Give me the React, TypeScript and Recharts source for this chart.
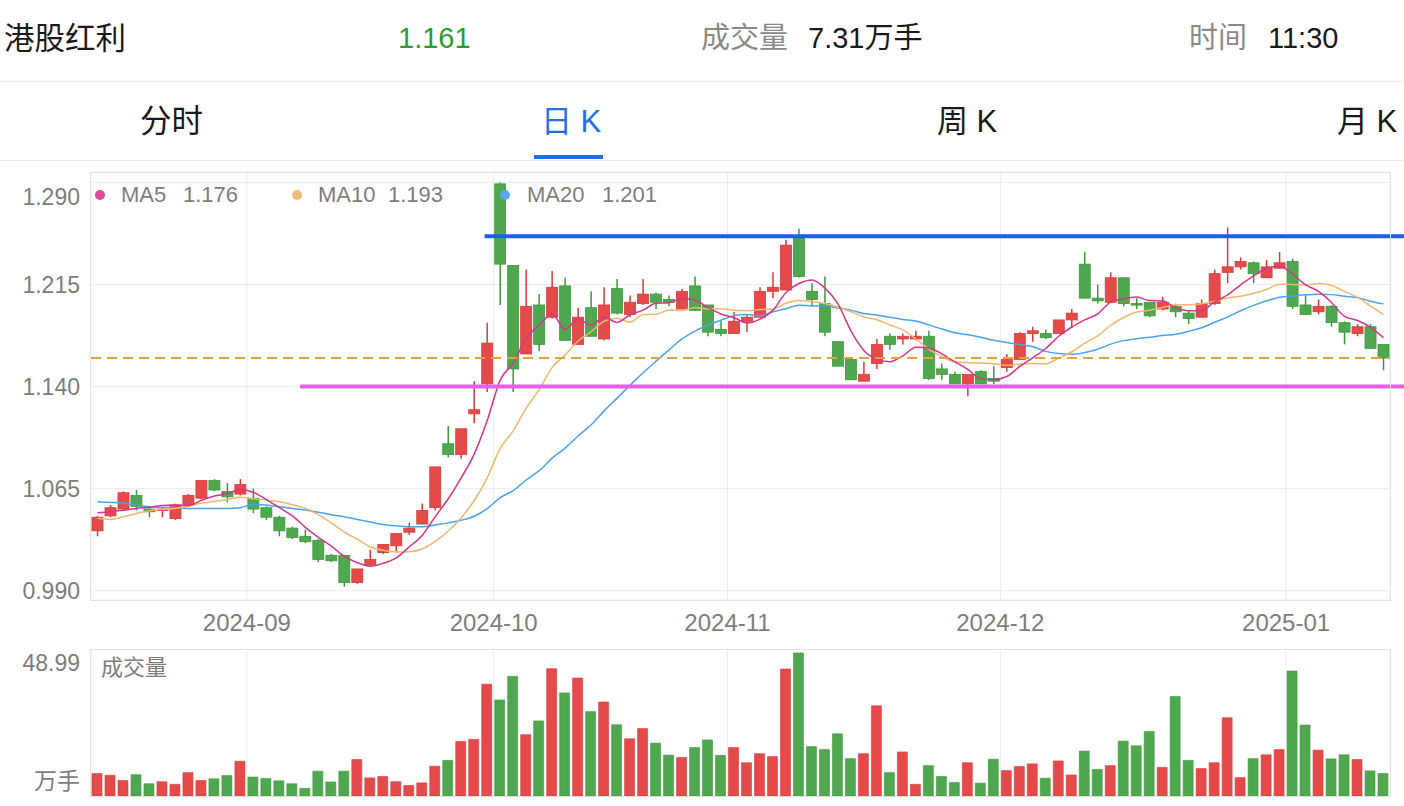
import React from 'react';
import { ComposedChart, Bar, Line, XAxis, YAxis, CartesianGrid, ReferenceLine, Cell } from 'recharts';

// trading days shown on the chart
const dates = [
  '2024-08-15', '2024-08-16', '2024-08-19', '2024-08-20', '2024-08-21', '2024-08-22', '2024-08-23', '2024-08-26', '2024-08-27', '2024-08-28', '2024-08-29', '2024-08-30',
  '2024-09-02', '2024-09-03', '2024-09-04', '2024-09-05', '2024-09-06', '2024-09-09', '2024-09-10', '2024-09-11', '2024-09-12', '2024-09-13', '2024-09-18', '2024-09-19', '2024-09-20', '2024-09-23', '2024-09-24', '2024-09-25', '2024-09-26', '2024-09-27', '2024-09-30',
  '2024-10-08', '2024-10-09', '2024-10-10', '2024-10-11', '2024-10-14', '2024-10-15', '2024-10-16', '2024-10-17', '2024-10-18', '2024-10-21', '2024-10-22', '2024-10-23', '2024-10-24', '2024-10-25', '2024-10-28', '2024-10-29', '2024-10-30', '2024-10-31',
  '2024-11-01', '2024-11-04', '2024-11-05', '2024-11-06', '2024-11-07', '2024-11-08', '2024-11-11', '2024-11-12', '2024-11-13', '2024-11-14', '2024-11-15', '2024-11-18', '2024-11-19', '2024-11-20', '2024-11-21', '2024-11-22', '2024-11-25', '2024-11-26', '2024-11-27', '2024-11-28', '2024-11-29',
  '2024-12-02', '2024-12-03', '2024-12-04', '2024-12-05', '2024-12-06', '2024-12-09', '2024-12-10', '2024-12-11', '2024-12-12', '2024-12-13', '2024-12-16', '2024-12-17', '2024-12-18', '2024-12-19', '2024-12-20', '2024-12-23', '2024-12-24', '2024-12-25', '2024-12-26', '2024-12-27', '2024-12-30', '2024-12-31',
  '2025-01-02', '2025-01-03', '2025-01-06', '2025-01-07', '2025-01-08', '2025-01-09', '2025-01-10', '2025-01-13',
];

const open = [
  1.034, 1.045, 1.050, 1.060, 1.050, 1.049, 1.043, 1.053, 1.058, 1.071,
  1.063, 1.061, 1.058, 1.051, 1.044, 1.036, 1.030, 1.027, 1.016, 1.016,
  0.996, 1.009, 1.018, 1.023, 1.033, 1.039, 1.051, 1.098, 1.090, 1.120,
  1.142, 1.289, 1.229, 1.164, 1.200, 1.191, 1.214, 1.171, 1.198, 1.175,
  1.212, 1.193, 1.201, 1.208, 1.204, 1.197, 1.214, 1.200, 1.182, 1.179,
  1.188, 1.191, 1.210, 1.211, 1.250, 1.210, 1.201, 1.173, 1.160, 1.144,
  1.157, 1.177, 1.175, 1.175, 1.177, 1.153, 1.149, 1.142, 1.151, 1.146,
  1.154, 1.160, 1.179, 1.179, 1.179, 1.189, 1.230, 1.205, 1.202, 1.220,
  1.201, 1.202, 1.197, 1.199, 1.194, 1.191, 1.201, 1.224, 1.228, 1.231,
  1.220, 1.227, 1.232, 1.200, 1.195, 1.199, 1.187, 1.179, 1.184, 1.171,
];
const high = [
  1.045, 1.053, 1.063, 1.064, 1.052, 1.051, 1.054, 1.061, 1.071, 1.072,
  1.069, 1.072, 1.065, 1.052, 1.045, 1.037, 1.035, 1.028, 1.017, 1.016,
  1.006, 1.020, 1.024, 1.032, 1.040, 1.054, 1.081, 1.111, 1.109, 1.144,
  1.187, 1.290, 1.229, 1.226, 1.208, 1.225, 1.220, 1.198, 1.210, 1.213,
  1.219, 1.207, 1.219, 1.209, 1.207, 1.212, 1.221, 1.200, 1.188, 1.195,
  1.193, 1.213, 1.224, 1.248, 1.256, 1.216, 1.221, 1.173, 1.162, 1.158,
  1.175, 1.179, 1.179, 1.181, 1.181, 1.157, 1.151, 1.149, 1.152, 1.155,
  1.164, 1.180, 1.184, 1.182, 1.189, 1.197, 1.239, 1.215, 1.224, 1.220,
  1.205, 1.202, 1.206, 1.201, 1.196, 1.204, 1.226, 1.257, 1.235, 1.232,
  1.233, 1.239, 1.234, 1.207, 1.204, 1.200, 1.188, 1.186, 1.186, 1.171,
];
const low = [
  1.030, 1.044, 1.049, 1.049, 1.044, 1.044, 1.042, 1.052, 1.057, 1.063,
  1.055, 1.060, 1.047, 1.042, 1.030, 1.028, 1.025, 1.011, 1.011, 0.993,
  0.995, 1.008, 1.017, 1.019, 1.031, 1.039, 1.049, 1.088, 1.087, 1.113,
  1.136, 1.200, 1.136, 1.164, 1.166, 1.190, 1.174, 1.171, 1.177, 1.174,
  1.193, 1.191, 1.200, 1.197, 1.199, 1.197, 1.196, 1.177, 1.177, 1.179,
  1.180, 1.191, 1.205, 1.211, 1.220, 1.199, 1.177, 1.155, 1.145, 1.144,
  1.153, 1.167, 1.171, 1.174, 1.145, 1.145, 1.142, 1.133, 1.142, 1.142,
  1.151, 1.160, 1.173, 1.175, 1.179, 1.183, 1.205, 1.201, 1.202, 1.199,
  1.197, 1.191, 1.196, 1.191, 1.186, 1.191, 1.200, 1.216, 1.226, 1.216,
  1.220, 1.227, 1.197, 1.193, 1.193, 1.184, 1.171, 1.177, 1.168, 1.152,
];
const close = [
  1.044, 1.051, 1.062, 1.052, 1.048, 1.050, 1.053, 1.060, 1.071, 1.064,
  1.059, 1.068, 1.050, 1.044, 1.034, 1.029, 1.026, 1.013, 1.012, 0.996,
  1.006, 1.013, 1.024, 1.032, 1.036, 1.049, 1.081, 1.090, 1.109, 1.123,
  1.172, 1.230, 1.153, 1.199, 1.171, 1.213, 1.174, 1.191, 1.177, 1.200,
  1.194, 1.202, 1.208, 1.202, 1.202, 1.210, 1.196, 1.180, 1.179, 1.188,
  1.191, 1.210, 1.213, 1.244, 1.221, 1.204, 1.180, 1.155, 1.145, 1.149,
  1.171, 1.171, 1.177, 1.177, 1.146, 1.149, 1.142, 1.149, 1.142, 1.144,
  1.160, 1.179, 1.181, 1.176, 1.189, 1.194, 1.205, 1.203, 1.220, 1.201,
  1.200, 1.192, 1.202, 1.195, 1.190, 1.201, 1.223, 1.228, 1.232, 1.223,
  1.228, 1.231, 1.199, 1.193, 1.199, 1.187, 1.180, 1.184, 1.168, 1.161,
];
// 万手
const volume = [
  7.7, 7.1, 5.3, 7.3, 4.2, 4.9, 4.0, 8.0, 5.3, 5.9,
  7.0, 11.9, 6.5, 6.0, 5.2, 4.2, 2.6, 8.5, 4.8, 8.5,
  12.5, 6.2, 6.7, 4.9, 3.6, 4.5, 10.2, 12.2, 18.7, 19.4,
  38.3, 32.9, 41.0, 21.0, 25.7, 43.6, 35.3, 40.4, 28.9, 32.2,
  24.4, 19.6, 23.1, 18.1, 14.0, 13.2, 16.6, 19.2, 13.9, 16.6,
  11.4, 14.5, 13.5, 43.5, 48.99, 16.9, 15.9, 21.3, 12.8, 14.5,
  30.9, 8.0, 15.1, 4.0, 10.4, 6.7, 4.6, 11.4, 4.4, 12.6,
  8.7, 10.1, 11.0, 6.1, 12.0, 7.2, 15.4, 9.1, 10.4, 18.8,
  17.2, 22.1, 9.8, 34.1, 12.2, 9.4, 11.4, 26.8, 6.3, 12.8,
  14.1, 15.9, 42.8, 24.3, 15.7, 12.7, 14.1, 12.5, 8.6, 7.7,
];

// MA values at the left edge (they depend on days before the window)
const ma5Lead = [1.0473, 1.0480, 1.0492, 1.0505];
const ma10Lead = [1.0432, 1.0424, 1.0444, 1.0468, 1.0488, 1.0498, 1.0505, 1.0522, 1.0542];
const ma20Lead = [
  1.0554, 1.0549, 1.0544, 1.0529, 1.0517, 1.0512, 1.0510, 1.0505, 1.0505, 1.0505,
  1.0505, 1.0510, 1.0534, 1.0529, 1.0517, 1.0505, 1.0493, 1.0476, 1.0458,
];

const priceTicks = [0.99, 1.065, 1.14, 1.215, 1.29];
// drawn trend lines: price level and the bar index where they start
const resistance = { price: 1.2505, from: 29.8 };
const support = { price: 1.14, from: 15.6 };

const UP = '#e54a4a';
const UP_EDGE = '#d83a3a';
const DOWN = '#4fa84f';
const DOWN_EDGE = '#3d983d';
const GRID = '#ececec';
const LABEL = '#7d7d7d';
const FONT = '"Liberation Sans", "Noto Sans CJK SC", sans-serif';
const W = 1404;

function movingAverage(n: number, lead: number[]) {
  return close.map((_, i) => {
    if (i < n - 1) return lead[i];
    let s = 0;
    for (let k = i - n + 1; k <= i; k++) s += close[k];
    return s / n;
  });
}
const ma5 = movingAverage(5, ma5Lead);
const ma10 = movingAverage(10, ma10Lead);
const ma20 = movingAverage(20, ma20Lead);

const rows = dates.map((d, i) => ({
  idx: i,
  date: d,
  open: open[i],
  high: high[i],
  low: low[i],
  close: close[i],
  volume: volume[i],
  ma5: ma5[i],
  ma10: ma10[i],
  ma20: ma20[i],
  up: close[i] >= open[i],
}));

const last = rows.length - 1;
const xDomain = [-0.5, last + 0.5];
const monthTicks = rows
  .filter((r, i) => i > 0 && r.date.slice(0, 7) !== rows[i - 1].date.slice(0, 7))
  .map((r) => r.idx - 0.5);
const maxVol = Math.max(...volume);

const legend = [
  { name: 'MA5', value: ma5[last], color: '#e0489a', dot: 100, text: 121, num: 183 },
  { name: 'MA10', value: ma10[last], color: '#f1bb78', dot: 297, text: 318, num: 388 },
  { name: 'MA20', value: ma20[last], color: '#5aa6f2', dot: 505, text: 527, num: 602 },
];

const Candle = (props: any) => {
  const { x, y, width, height, payload } = props;
  if (x == null || payload == null) return null;
  const top = Math.min(y, y + height);
  const h = Math.abs(height);
  const range = payload.high - payload.low;
  const py = (v: number) => (range > 0 ? top + ((payload.high - v) / range) * h : top);
  const fill = payload.up ? UP : DOWN;
  const edge = payload.up ? UP_EDGE : DOWN_EDGE;
  const bodyTop = py(Math.max(payload.open, payload.close));
  const bodyBottom = py(Math.min(payload.open, payload.close));
  const cx = x + width / 2;
  return (
    <g>
      <line x1={cx} x2={cx} y1={top} y2={top + h} stroke={edge} strokeWidth={1.5} />
      <rect x={x} y={bodyTop} width={width} height={Math.max(bodyBottom - bodyTop, 1.5)} fill={fill} stroke={edge} strokeWidth={0.8} />
    </g>
  );
};

const PriceTick = (props: any) => {
  const { x, y, payload } = props;
  const v = payload.value;
  const dy = v === priceTicks[priceTicks.length - 1] ? 14.5 : 0;
  return (
    <text x={x} y={y + dy} textAnchor="end" dominantBaseline="central" fill={LABEL} fontSize={23} fontFamily={FONT}>
      {v.toFixed(3)}
    </text>
  );
};

const DateTick = (props: any) => {
  const { x, y, payload } = props;
  return (
    <text x={x} y={y + 22} textAnchor="middle" dominantBaseline="central" fill={LABEL} fontSize={24} fontFamily={FONT}>
      {dates[Math.ceil(payload.value)].slice(0, 7)}
    </text>
  );
};

const VolTick = (props: any) => {
  const { x, y, payload } = props;
  const isTop = payload.value > 0;
  return (
    <text x={x} y={y + (isTop ? 10 : -15)} textAnchor="end" dominantBaseline="central" fill={LABEL} fontSize={23} fontFamily={FONT}>
      {isTop ? maxVol.toFixed(2) : '万手'}
    </text>
  );
};

const extendRight = (color: string) => (p: any) => (
  <line x1={p.x1} y1={p.y1} x2={W} y2={p.y2} stroke={color} strokeWidth={4} />
);

const box = (top: number, height: number): React.CSSProperties => ({
  position: 'absolute',
  left: 90,
  top,
  width: 1301,
  height,
  boxSizing: 'border-box',
  border: '1px solid #e3e3e3',
  pointerEvents: 'none',
});

const txt = (left: number, top: number, size: number, color: string, extra: React.CSSProperties = {}): React.CSSProperties => ({
  position: 'absolute',
  left,
  top,
  fontSize: size,
  color,
  lineHeight: 1,
  whiteSpace: 'nowrap',
  ...extra,
});

export default function App() {
  return (
    <div style={{ position: 'relative', width: W, height: 806, background: '#fff', fontFamily: FONT, overflow: 'hidden' }}>
      <style>{'body{margin:0}'}</style>

      {/* quote header */}
      <div style={txt(4, 23, 30.5, '#1a1a1a')}>港股红利</div>
      <div style={txt(398, 24, 29, '#2f9b2f')}>{close[last].toFixed(3)}</div>
      <div style={txt(701, 24, 29, '#8a8a8a')}>成交量</div>
      <div style={txt(808, 24, 29, '#1a1a1a')}>7.31万手</div>
      <div style={txt(1189, 24, 29, '#8a8a8a')}>时间</div>
      <div style={txt(1268, 24, 29, '#1a1a1a')}>11:30</div>
      <div style={{ position: 'absolute', left: 0, top: 81, width: W, height: 1, background: '#ececec' }} />

      {/* period tabs */}
      <div style={txt(140, 106, 31.5, '#1a1a1a')}>分时</div>
      <div style={txt(541, 106, 31, '#2070e8')}>日 K</div>
      <div style={txt(937, 106, 31, '#1a1a1a')}>周 K</div>
      <div style={txt(1337, 106, 31, '#1a1a1a')}>月 K</div>
      <div style={{ position: 'absolute', left: 534, top: 155, width: 69, height: 4, background: '#2070e8' }} />
      <div style={{ position: 'absolute', left: 0, top: 160, width: W, height: 1, background: '#ececec' }} />

      {/* candlestick chart */}
      <div style={{ position: 'absolute', left: 0, top: 0 }}>
        <ComposedChart width={W} height={640} data={rows} margin={{ top: 172, right: 14, bottom: 0, left: 0 }}>
          <CartesianGrid stroke={GRID} />
          <XAxis
            dataKey="idx"
            type="number"
            domain={xDomain}
            ticks={monthTicks}
            allowDataOverflow
            height={40}
            axisLine={false}
            tickLine={false}
            tickSize={0}
            tickMargin={0}
            tick={<DateTick />}
          />
          <YAxis
            type="number"
            domain={[0.98317, 1.29772]}
            allowDataOverflow
            ticks={priceTicks}
            width={91}
            axisLine={false}
            tickLine={false}
            tickSize={0}
            tickMargin={11}
            tick={<PriceTick />}
          />
          <Bar dataKey={(d: any) => [d.low, d.high]} barSize={11} shape={<Candle />} isAnimationActive={false} />
          <Line type="monotone" dataKey="ma20" stroke="#4aa3ee" strokeWidth={1.5} dot={false} isAnimationActive={false} />
          <Line type="monotone" dataKey="ma10" stroke="#f2b66c" strokeWidth={1.5} dot={false} isAnimationActive={false} />
          <Line type="monotone" dataKey="ma5" stroke="#d6358c" strokeWidth={1.5} dot={false} isAnimationActive={false} />
          <ReferenceLine y={close[last]} stroke="#e9a23b" strokeWidth={2} strokeDasharray="10 6" />
          <ReferenceLine
            segment={[{ x: resistance.from, y: resistance.price }, { x: xDomain[1], y: resistance.price }]}
            ifOverflow="visible"
            shape={extendRight('#1d5fe8')}
          />
          <ReferenceLine
            segment={[{ x: support.from, y: support.price }, { x: xDomain[1], y: support.price }]}
            ifOverflow="visible"
            shape={extendRight('#e45ee8')}
          />
        </ComposedChart>
      </div>
      <div style={box(172, 429)} />

      {/* MA legend */}
      {legend.map((l) => (
        <React.Fragment key={l.name}>
          <div style={{ position: 'absolute', left: l.dot - 5, top: 190, width: 10, height: 10, borderRadius: 5, background: l.color }} />
          <div style={txt(l.text, 184, 22, LABEL)}>{l.name}</div>
          <div style={txt(l.num, 184, 22, LABEL)}>{l.value.toFixed(3)}</div>
        </React.Fragment>
      ))}

      {/* volume chart */}
      <div style={{ position: 'absolute', left: 0, top: 640 }}>
        <ComposedChart width={W} height={166} data={rows} margin={{ top: 10, right: 14, bottom: 10, left: 0 }}>
          <CartesianGrid stroke={GRID} horizontal={false} />
          <XAxis dataKey="idx" type="number" domain={xDomain} ticks={monthTicks} allowDataOverflow hide />
          <YAxis
            type="number"
            domain={[0, 50]}
            ticks={[0, maxVol]}
            width={91}
            axisLine={false}
            tickLine={false}
            tickSize={0}
            tickMargin={11}
            tick={<VolTick />}
          />
          <Bar dataKey="volume" barSize={10} isAnimationActive={false}>
            {rows.map((r) => (
              <Cell key={r.idx} fill={r.up ? UP : DOWN} stroke={r.up ? UP_EDGE : DOWN_EDGE} strokeWidth={0.6} />
            ))}
          </Bar>
        </ComposedChart>
      </div>
      <div style={box(649, 148)} />
      <div style={txt(101, 657, 22, LABEL)}>成交量</div>
    </div>
  );
}
